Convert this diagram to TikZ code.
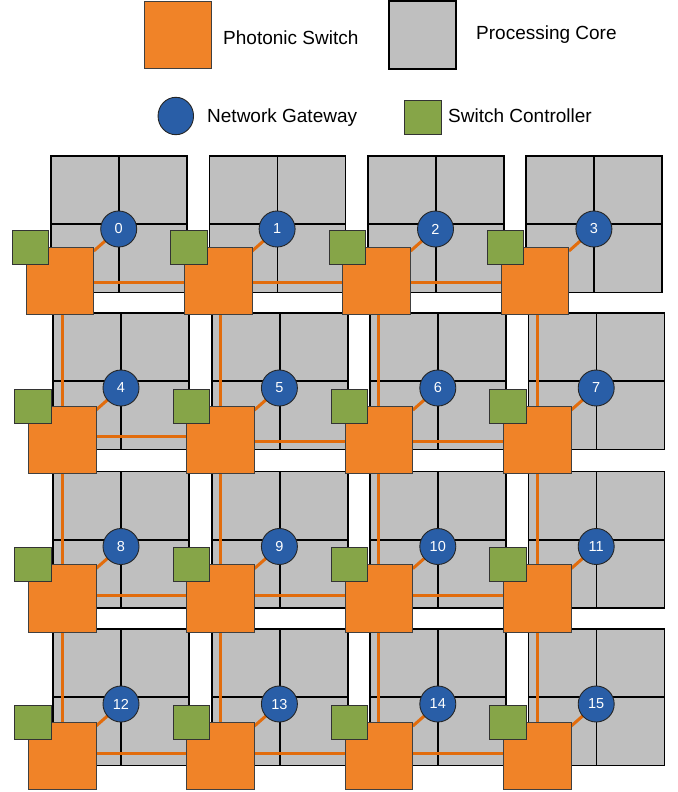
\documentclass[tikz,border=0pt]{standalone}
\usepackage{fontspec}
\setmainfont{Liberation Sans}
\usetikzlibrary{calc,shapes.geometric}
\pgfdeclarelayer{tilelayer}
\pgfdeclarelayer{linklayer}
\pgfsetlayers{tilelayer,linklayer,main}
\definecolor{corefill}{RGB}{191,191,191}
\definecolor{swfill}{RGB}{240,131,40}
\definecolor{linkcol}{RGB}{226,108,12}
\definecolor{gwfill}{RGB}{41,94,167}
\definecolor{ctlfill}{RGB}{134,165,72}
\begin{document}
\begin{tikzpicture}[x=1pt,y=-1pt,
  tile/.style={rectangle, draw=black, line width=1.8pt, fill=corefill, minimum width=136pt, minimum height=136.5pt, inner sep=0pt, outer sep=0pt, anchor=north west},
  legendcore/.style={rectangle, draw=black, line width=2pt, fill=corefill, minimum width=67pt, minimum height=68pt, inner sep=0pt, outer sep=0pt, anchor=north west},
  switchbox/.style={rectangle, draw=black!75, line width=0.9pt, fill=swfill, minimum size=67.7pt, inner sep=0pt, outer sep=0pt, anchor=north west},
  ctlbox/.style={rectangle, draw=black!80, line width=0.9pt, fill=ctlfill, minimum width=36.4pt, minimum height=34pt, inner sep=0pt, outer sep=0pt, anchor=north west},
  gateway/.style={circle, draw=black!85, line width=0.9pt, fill=gwfill, minimum size=36pt, inner sep=0pt, outer sep=0pt, text=white, font=\fontsize{14.5}{16}\selectfont},
  divider/.style={draw=black, line width=1.8pt},
  link/.style={draw=linkcol, line width=3pt},
  legendtext/.style={font=\fontsize{19}{22}\selectfont, anchor=base west, inner sep=0pt}
]
\useasboundingbox (0,0) rectangle (677,792);

% legend
\node[switchbox, minimum size=67.5pt] (legsw) at (144.2,1) {};
\node[legendtext] (legswtxt) at (223,45) {Photonic Switch};
\node[legendcore] (legcore) at (388.5,1) {};
\node[legendtext] (legcoretxt) at (476,40) {Processing Core};
\node[ellipse, draw=black!85, line width=0.9pt, fill=gwfill, minimum width=35.5pt, minimum height=37.4pt, inner sep=0pt] (leggw) at (175.8,116) {};
\node[legendtext] (leggwtxt) at (207,122.3) {Network Gateway};
\node[ctlbox, minimum width=36.8pt, minimum height=34.3pt] (legctl) at (404.8,100) {};
\node[legendtext] (legctltxt) at (448,122.3) {Switch Controller};

% grid
\foreach \row/\tp/\dd in {0/156/0,1/313/2,2/471.5/2,3/629/2}{
  \foreach \col in {0,1,2,3}{
    \pgfmathtruncatemacro\nn{4*\row+\col}
    \pgfmathsetmacro\X{51+158.4*\col+(\row>0)*2.3}
    \begin{pgfonlayer}{tilelayer}
      \node[tile] (t\nn) at (\X,\tp) {};
      \draw[divider] (t\nn.north) -- (t\nn.south) (t\nn.west) -- (t\nn.east);
    \end{pgfonlayer}
    \node[switchbox] (s\nn) at (\X-25,\tp+91+\dd) {};
    \node[ctlbox] (k\nn) at (\X-38.7,\tp+74+\dd) {};
    \node[gateway] (g\nn) at (\X+67.7,\tp+73+\dd) {\nn};
  }
}

\begin{pgfonlayer}{linklayer}
  \foreach \a/\b/\off in {0/1/2,1/2/1.2,2/3/2,4/5/-3,5/6/2,6/7/2,8/9/-2.6,9/10/-2.6,10/11/-2.6,12/13/-2,13/14/-2,14/15/-2}
    \draw[link] ($(s\a.east)+(0,\off)$) -- ($(s\b.west)+(0,\off)$);
  \foreach \a in {0,...,11}{
    \pgfmathtruncatemacro\b{\a+4}
    \draw[link] (s\b.north) -- (s\b.north |- s\a.south);
  }
  \foreach \a in {0,...,15}
    \draw[link] (g\a) -- (s\a);
\end{pgfonlayer}
\end{tikzpicture}
\end{document}
